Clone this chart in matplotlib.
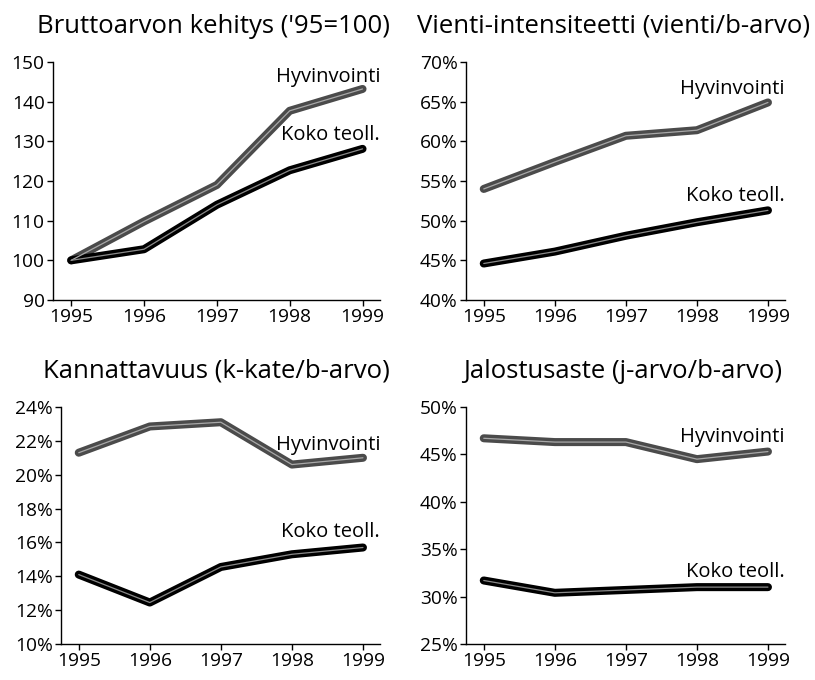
import matplotlib
matplotlib.use("Agg")
import matplotlib.pyplot as plt
from matplotlib.ticker import FuncFormatter

plt.rcParams['font.family'] = ['Open Sans', 'DejaVu Sans']

years = [1995, 1996, 1997, 1998, 1999]

titles = ["Bruttoarvon kehitys ('95=100)", "Vienti-intensiteetti (vienti/b-arvo)",
          "Kannattavuus (k-kate/b-arvo)", "Jalostusaste (j-arvo/b-arvo)"]
series_names = ["Hyvinvointi", "Koko teoll."]

brutto_hyv = [100, 109.8, 119.0, 137.7, 143.2]
brutto_koko = [100, 102.8, 114.0, 122.7, 128.1]
vienti_hyv = [54.0, 57.4, 60.7, 61.4, 64.9]
vienti_koko = [44.6, 46.1, 48.1, 49.8, 51.3]
kannat_hyv = [21.3, 22.85, 23.1, 20.6, 21.0]
kannat_koko = [14.1, 12.45, 14.55, 15.3, 15.7]
jalost_hyv = [46.7, 46.3, 46.3, 44.5, 45.3]
jalost_koko = [31.7, 30.4, 30.7, 31.0, 31.0]

ylims = [(90, 150), (40, 70), (10, 24), (25, 50)]
ysteps = [10, 5, 2, 5]
label_y = [(146.3, 131.6), (66.6, 53.1), (21.75, 16.6), (46.8, 32.6)]
is_pct = [False, True, True, True]
title_x = [0.49, 0.462, 0.486, 0.49]

data = [(brutto_hyv, brutto_koko), (vienti_hyv, vienti_koko),
        (kannat_hyv, kannat_koko), (jalost_hyv, jalost_koko)]

W, H = 815, 680
fig = plt.figure(figsize=(W / 100, H / 100), dpi=100)
rects = [(53, 380, 62, 300), (466, 785, 62, 300), (61, 380, 407, 644), (466, 785, 407, 644)]

styles = [("#4b4b4b", "#a8a8a8"), ("#000000", "#8a8a8a")]

for i in range(4):
    l, r, t, b = rects[i]
    ax = fig.add_axes([l / W, (H - b) / H, (r - l) / W, (b - t) / H])
    for (vals, name, (oc, ic), ly) in zip(data[i], series_names, styles, label_y[i]):
        ax.plot(years, vals, color=oc, lw=5.8, solid_capstyle='round', solid_joinstyle='round', zorder=3)
        ax.plot(years, vals, color=ic, lw=0.9, solid_capstyle='round', solid_joinstyle='round', zorder=4)
        ax.text(1.0, ly, name, transform=ax.get_yaxis_transform(), ha='right', va='center',
                fontsize=14.5, color='black')
    lo, hi = ylims[i]
    ax.set_ylim(lo, hi)
    ax.set_yticks(list(range(lo, hi + 1, ysteps[i])))
    if is_pct[i]:
        ax.yaxis.set_major_formatter(FuncFormatter(lambda v, p: f"{v:.0f}%"))
    ax.set_xlim(1994.75, 1999.24)
    ax.set_xticks(years)
    ax.set_xticklabels([str(y) for y in years])
    for s in ['top', 'right']:
        ax.spines[s].set_visible(False)
    for s in ['left', 'bottom']:
        ax.spines[s].set_linewidth(1.0)
    ax.tick_params(axis='both', direction='out', length=4, width=1.0, labelsize=13.8, pad=2)
    ax.set_title(titles[i], fontsize=18.5, pad=21, x=title_x[i])

fig.savefig("out.png", dpi=100)
